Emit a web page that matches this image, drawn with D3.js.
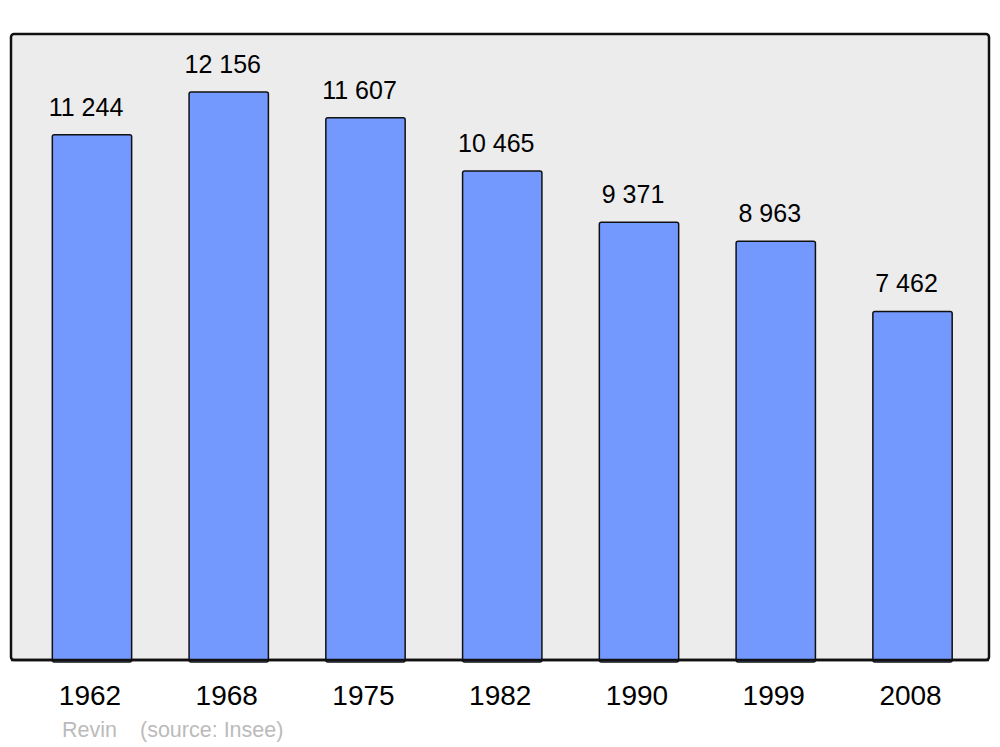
<!DOCTYPE html>
<html><head><meta charset="utf-8">
<script src="https://cdn.jsdelivr.net/npm/d3@7"></script>
<style>body{margin:0;background:#fff}svg{display:block}</style>
</head><body>
<svg id="c" width="1000" height="747"></svg>
<script>
const years = ["1962","1968","1975","1982","1990","1999","2008"];
const population = [11244, 12156, 11607, 10465, 9371, 8963, 7462];
const valueLabels = ["11 244","12 156","11 607","10 465","9 371","8 963","7 462"];
const commune = "Revin";
const source = "(source: Insee)";

const svg = d3.select("#c");
const frame = {x0: 11, y0: 34, x1: 989, y1: 660};

svg.append("rect")
  .attr("x", frame.x0).attr("y", frame.y0)
  .attr("width", frame.x1 - frame.x0).attr("height", frame.y1 - frame.y0)
  .attr("rx", 3).attr("fill", "#ececec")
  .attr("stroke", "#111").attr("stroke-width", 2.5);

const x = d3.scaleBand().domain(years).range([23.6, 980.9]).paddingInner(0.42).paddingOuter(0.21);
const y = d3.scaleLinear().domain([0, 13400]).range([frame.y1, frame.y0]);

const g = svg.append("g");
g.selectAll("rect.bar").data(years).join("rect")
  .attr("class", "bar")
  .attr("x", d => x(d))
  .attr("y", (d, i) => y(population[i]))
  .attr("width", x.bandwidth())
  .attr("height", (d, i) => frame.y1 - y(population[i]) + 2)
  .attr("rx", 2)
  .attr("fill", "#7399ff")
  .attr("stroke", "#111").attr("stroke-width", 1.5);

svg.append("line")
  .attr("x1", frame.x0).attr("x2", frame.x1)
  .attr("y1", frame.y1).attr("y2", frame.y1)
  .attr("stroke", "#111").attr("stroke-width", 2.5);

g.selectAll("text.val").data(years).join("text")
  .attr("class", "val")
  .attr("x", d => x(d) + x.bandwidth() / 2 - 6)
  .attr("y", (d, i) => y(population[i]) - 19)
  .attr("text-anchor", "middle")
  .attr("font-family", "Liberation Sans, Arial, sans-serif")
  .attr("font-size", 25)
  .attr("fill", "#000")
  .text((d, i) => valueLabels[i]);

const xAxis = d3.axisBottom(x).tickSize(0).tickPadding(0);
const ax = svg.append("g").attr("transform", `translate(-2,${705})`).call(xAxis);
ax.select(".domain").remove();
ax.selectAll("text")
  .attr("dy", 0).attr("y", 0)
  .attr("font-family", "Liberation Sans, Arial, sans-serif")
  .attr("font-size", 28).attr("fill", "#000");

svg.append("text").attr("x", 62).attr("y", 737)
  .attr("font-family", "Liberation Sans, Arial, sans-serif")
  .attr("font-size", 21.5).attr("fill", "#bbbbbb").text(commune);
svg.append("text").attr("x", 140).attr("y", 737)
  .attr("font-family", "Liberation Sans, Arial, sans-serif")
  .attr("font-size", 21.5).attr("fill", "#bbbbbb").text(source);
</script>
</body></html>
